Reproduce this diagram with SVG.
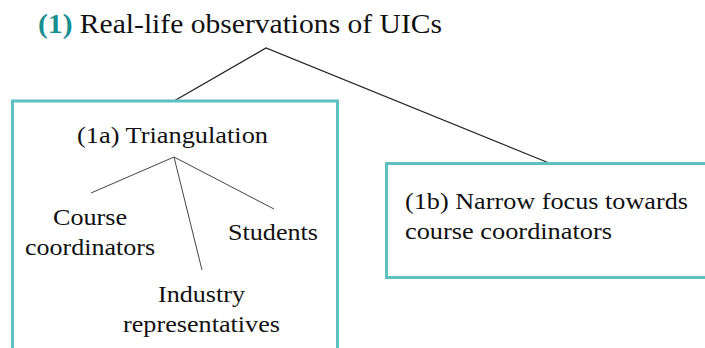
<svg xmlns="http://www.w3.org/2000/svg" width="705" height="348" viewBox="0 0 705 348">
  <style>
    .box { fill: none; stroke: #5fc0c2; stroke-width: 3; }
    .edge { stroke: #222; stroke-width: 1.3; fill: none; }
    .sub { stroke: #444; stroke-width: 1; fill: none; }
  </style>
  <rect width="705" height="348" fill="#fff"/>

  <!-- connectors -->
  <g id="connectors">
    <path class="edge" d="M174 101 L266 48 L549 163"/>
    <path class="sub" d="M91 193 L174 157 L274 209 M174 157 L202 270"/>
  </g>

  <g font-family="Liberation Serif, Times New Roman, Tinos, Noto Serif, DejaVu Serif, serif" fill="#111">
    <!-- root -->
    <g id="root">
      <text x="38" y="33" font-size="27" textLength="404" lengthAdjust="spacingAndGlyphs"><tspan font-weight="bold" fill="#178f90">(1)</tspan> Real-life observations of UICs</text>
    </g>

    <!-- 1a: triangulation -->
    <g id="n1a">
      <rect class="box" x="12.5" y="101" width="325" height="270"/>
      <text x="77" y="143" font-size="23" textLength="191" lengthAdjust="spacingAndGlyphs">(1a) Triangulation</text>
    </g>
    <g id="n1a-course">
      <text x="53" y="225" font-size="23" textLength="74" lengthAdjust="spacingAndGlyphs">Course</text>
      <text x="25" y="255" font-size="23" textLength="130" lengthAdjust="spacingAndGlyphs">coordinators</text>
    </g>
    <g id="n1a-students">
      <text x="228" y="240" font-size="23" textLength="90" lengthAdjust="spacingAndGlyphs">Students</text>
    </g>
    <g id="n1a-industry">
      <text x="158" y="302" font-size="23" textLength="87" lengthAdjust="spacingAndGlyphs">Industry</text>
      <text x="123" y="332" font-size="23" textLength="157" lengthAdjust="spacingAndGlyphs">representatives</text>
    </g>

    <!-- 1b: narrow focus -->
    <g id="n1b">
      <rect class="box" x="386.5" y="163.5" width="340" height="114"/>
      <text x="405" y="209" font-size="23" textLength="283" lengthAdjust="spacingAndGlyphs">(1b) Narrow focus towards</text>
      <text x="405" y="239" font-size="23" textLength="207" lengthAdjust="spacingAndGlyphs">course coordinators</text>
    </g>
  </g>
</svg>
